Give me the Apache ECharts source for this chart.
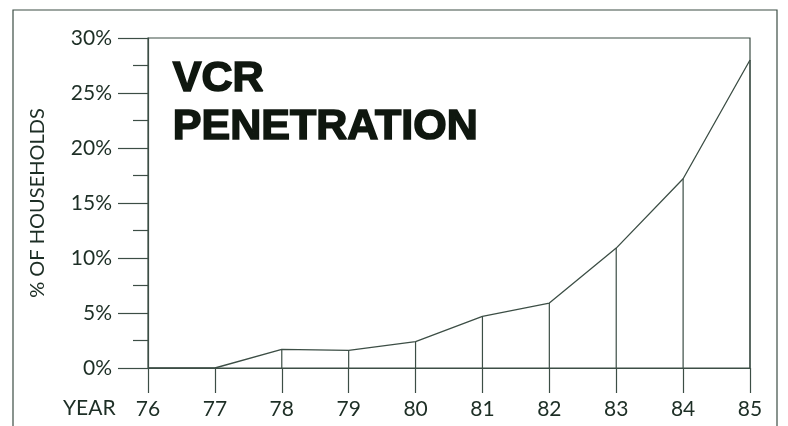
<!DOCTYPE html>
<html>
<head>
<meta charset="utf-8">
<script src="https://cdn.jsdelivr.net/npm/echarts@6/dist/echarts.min.js"></script>
<style>
  html, body { margin: 0; padding: 0; background: #fff; }
  #chart { width: 788px; height: 426px; }
</style>
</head>
<body>
<div id="chart"></div>
<script>
// VCR penetration, share of households by year
const years = ['76', '77', '78', '79', '80', '81', '82', '83', '84', '85'];
const penetration = [0, 0, 1.7, 1.6, 2.4, 4.7, 5.9, 10.9, 17.2, 28.0];
const yTicks = [0, 5, 10, 15, 20, 25, 30];

const ink = '#3c4e45';
const textInk = '#1d2e25';
const labelFont = 'Lato, "Open Sans", sans-serif';

const chart = echarts.init(document.getElementById('chart'));
chart.setOption({
  animation: false,
  backgroundColor: '#ffffff',
  grid: {
    left: 148, right: 38, top: 38, bottom: 58,
    show: true, borderColor: ink, borderWidth: 1.2, backgroundColor: 'transparent'
  },
  graphic: [
    {
      type: 'rect',
      shape: { x: 13, y: 10, width: 764, height: 430 },
      style: { fill: 'none', stroke: ink, lineWidth: 1.2 },
      silent: true
    },
    {
      type: 'text', left: 172, top: 55,
      style: {
        text: 'VCR\nPENETRATION',
        font: 'bold 43px "Liberation Sans", Arial, sans-serif',
        fill: '#0f170f', stroke: '#0f170f', lineWidth: 1.6, lineHeight: 48
      }
    },
    {
      type: 'text', left: 63, top: 398,
      style: { text: 'YEAR', font: '21px ' + labelFont, fill: textInk }
    }
  ],
  xAxis: {
    type: 'category',
    data: years,
    boundaryGap: false,
    axisLine: { lineStyle: { color: ink, width: 1.2 } },
    axisTick: { show: true, length: 25, lineStyle: { color: ink, width: 1.2 } },
    axisLabel: { color: textInk, fontSize: 21, fontFamily: labelFont, margin: 31 },
    splitLine: { show: false }
  },
  yAxis: {
    type: 'value',
    min: yTicks[0], max: yTicks[yTicks.length - 1], interval: 5,
    name: '% OF HOUSEHOLDS',
    nameLocation: 'middle',
    nameGap: 100,
    nameRotate: 90,
    nameTextStyle: { color: textInk, fontSize: 20, fontFamily: labelFont },
    axisLine: { show: true, lineStyle: { color: ink, width: 1.2 } },
    axisTick: { show: true, length: 30, lineStyle: { color: ink, width: 1.2 } },
    minorTick: { show: true, splitNumber: 2, length: 15, lineStyle: { color: ink, width: 1.2 } },
    axisLabel: { color: textInk, fontSize: 21, fontFamily: labelFont, margin: 36, formatter: '{value}%' },
    splitLine: { show: false }
  },
  series: [
    {
      // vertical drop lines from each point to the axis
      type: 'bar',
      data: penetration,
      barWidth: 1.2,
      itemStyle: { color: ink },
      silent: true
    },
    {
      type: 'line',
      data: penetration,
      symbol: 'none',
      lineStyle: { color: ink, width: 1.3 },
      silent: true
    }
  ]
});
</script>
</body>
</html>
